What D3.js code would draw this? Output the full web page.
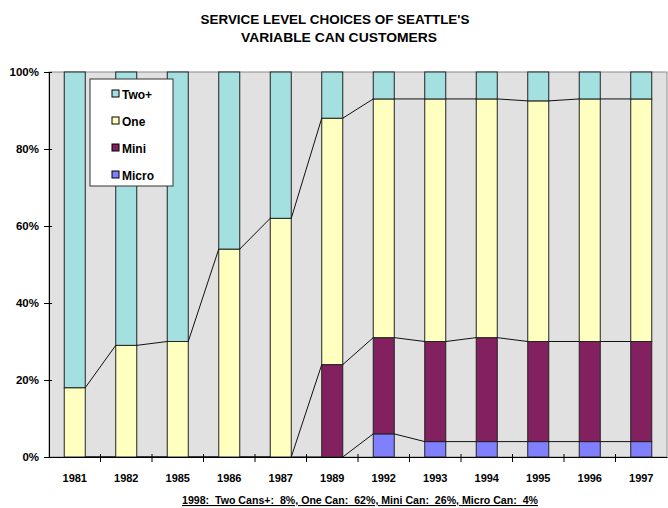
<!DOCTYPE html>
<html>
<head>
<meta charset="utf-8">
<script src="https://cdn.jsdelivr.net/npm/d3@7"></script>
<style>
  body { margin: 0; background: #fff; }
  text { font-family: "Liberation Sans", Arial, sans-serif; font-weight: bold; }
</style>
</head>
<body>
<div id="viz"></div>
<script>
const years = ["1981", "1982", "1985", "1986", "1987", "1989", "1992", "1993", "1994", "1995", "1996", "1997"];
const micro = [0, 0, 0, 0, 0, 0, 6, 4, 4, 4, 4, 4];
const mini = [0, 0, 0, 0, 0, 24, 25, 26, 27, 26, 26, 26];
const one = [18, 29, 30, 54, 62, 64, 62, 63, 62, 62.5, 63, 63];
const twoPlus = [82, 71, 70, 46, 38, 12, 7, 7, 7, 7.5, 7, 7];
const yTicks = [0, 20, 40, 60, 80, 100];
const seriesNames = ["Micro", "Mini", "One", "Two+"];
const legendOrder = ["Two+", "One", "Mini", "Micro"];
const colors = { "Two+": "#a4e0e0", "One": "#ffffc0", "Mini": "#822060", "Micro": "#8080ff" };

const width = 668;
const height = 508;
const plotLeft = 49, plotRight = 667, plotTop = 72, plotBottom = 457;

const rows = years.map((y, i) => ({
    year: y, "Micro": micro[i], "Mini": mini[i], "One": one[i], "Two+": twoPlus[i]
}));

const stacked = d3.stack().keys(seriesNames)(rows);

const svg = d3.select('#viz').append('svg')
    .attr('width', width)
    .attr('height', height);

const x = d3.scaleBand()
    .domain(years)
    .range([plotLeft, plotRight])
    .paddingInner(0.592)
    .paddingOuter(0.296);

const y = d3.scaleLinear()
    .domain([0, 100])
    .range([plotBottom, plotTop]);

// title
svg.append('text')
    .attr('x', 335).attr('y', 24)
    .attr('text-anchor', 'middle')
    .attr('textLength', 269)
    .attr('lengthAdjust', 'spacingAndGlyphs')
    .style('font-size', '13.5px')
    .text("SERVICE LEVEL CHOICES OF SEATTLE'S");
svg.append('text')
    .attr('x', 339).attr('y', 42)
    .attr('text-anchor', 'middle')
    .attr('textLength', 196)
    .attr('lengthAdjust', 'spacingAndGlyphs')
    .style('font-size', '13.5px')
    .text("VARIABLE CAN CUSTOMERS");

// plot area
svg.append('rect')
    .attr('x', plotLeft).attr('y', plotTop)
    .attr('width', plotRight - plotLeft).attr('height', plotBottom - plotTop)
    .attr('fill', '#e1e1e1')
    .attr('stroke', '#8a8a8a');

// bars
svg.append('g')
    .selectAll('g')
    .data(stacked)
    .join('g')
    .attr('fill', d => colors[d.key])
    .selectAll('rect')
    .data(d => d)
    .join('rect')
    .attr('x', d => x(d.data.year))
    .attr('y', d => y(d[1]))
    .attr('width', x.bandwidth())
    .attr('height', d => y(d[0]) - y(d[1]))
    .attr('stroke', '#222')
    .attr('stroke-width', 1);

// series lines
const lineData = stacked.slice(0, 3);
lineData.forEach(s => {
    for (let i = 0; i < s.length - 1; i++) {
        svg.append('line')
            .attr('x1', x(years[i]) + x.bandwidth())
            .attr('y1', y(s[i][1]))
            .attr('x2', x(years[i + 1]))
            .attr('y2', y(s[i + 1][1]))
            .attr('stroke', '#111')
            .attr('stroke-width', 1);
    }
});

// y axis
const yAxis = svg.append('g')
    .attr('transform', `translate(${plotLeft},0)`)
    .call(d3.axisLeft(y).tickValues(yTicks).tickFormat(d => d + '%').tickSize(5).tickPadding(5));
yAxis.select('.domain').attr('stroke', '#000');
yAxis.selectAll('.tick line').attr('x1', 3).attr('stroke', '#000');
yAxis.selectAll('.tick text').style('font-size', '11.5px').attr('fill', '#000');

// x axis
const xAxis = svg.append('g')
    .attr('transform', `translate(0,${plotBottom})`)
    .call(d3.axisBottom(x).tickSize(0).tickPadding(17));
xAxis.select('.domain').attr('stroke', '#000');
xAxis.selectAll('.tick text').style('font-size', '11px').attr('fill', '#000');

const step = x.step();
const bounds = years.slice(1).map(yr => x(yr) - (step - x.bandwidth()) / 2);
svg.append('g')
    .selectAll('line')
    .data(bounds)
    .join('line')
    .attr('x1', d => d).attr('x2', d => d)
    .attr('y1', plotBottom - 3).attr('y2', plotBottom + 5)
    .attr('stroke', '#000');

// legend
const legend = svg.append('g');
legend.append('rect')
    .attr('x', 90).attr('y', 79)
    .attr('width', 83).attr('height', 107)
    .attr('fill', '#fff')
    .attr('stroke', '#333');
const items = legend.selectAll('g.item')
    .data(legendOrder)
    .join('g')
    .attr('class', 'item')
    .attr('transform', (d, i) => `translate(112,${94 + i * 27})`);
items.append('rect')
    .attr('x', 0).attr('y', -4)
    .attr('width', 7).attr('height', 7)
    .attr('fill', d => colors[d])
    .attr('stroke', '#000');
items.append('text')
    .attr('x', 10).attr('y', 4.5)
    .style('font-size', '12px')
    .text(d => d);

// footnote
svg.append('text')
    .attr('x', 360).attr('y', 504)
    .attr('text-anchor', 'middle')
    .attr('textLength', 356)
    .attr('lengthAdjust', 'spacingAndGlyphs')
    .style('font-size', '11px')
    .style('white-space', 'pre')
    .style('text-decoration', 'underline')
    .text("1998:  Two Cans+:  8%, One Can:  62%, Mini Can:  26%, Micro Can:  4%");
</script>
</body>
</html>
